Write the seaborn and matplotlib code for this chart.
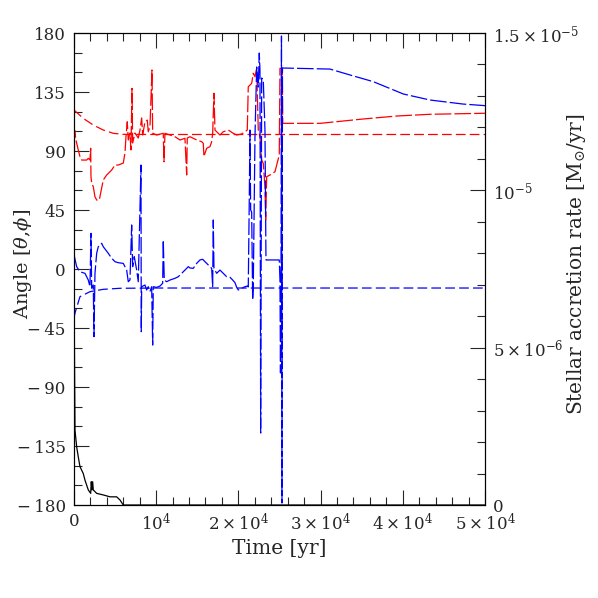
import numpy as np
import pandas as pd
import seaborn as sns
import matplotlib.pyplot as plt
from matplotlib.ticker import MultipleLocator

# time axis values [yr] and angles [deg]
t_theta_a = [0, 36, 73, 243, 523, 730, 937, 1545, 1740, 1946, 2032, 2068, 2153, 2348, 2555, 2761,
             3078, 3248, 3564, 3978, 4586, 4988, 5389, 5997, 6204, 6326, 6484, 6606, 6812, 6934,
             7056, 7141, 7421, 7822, 8029, 8236, 8357, 8637, 8917, 9039, 9245, 9489, 9574, 10060,
             10863, 10949, 11070, 11678, 12287, 12895, 13503, 13710, 13783, 14111, 14513, 14926,
             15535, 15729, 15814, 15936, 16143, 16544, 16751, 16873, 17031, 17153, 17360, 17761,
             18163, 18771, 19379, 19793, 20401, 20802, 21082, 21204, 21617, 21812, 22019, 22226,
             22420, 22627, 22834, 23029, 23235, 23321, 23442, 23844, 24452, 24975, 25060, 25340,
             25400, 29926, 35157, 39293, 43307, 50000]
theta_a = [157.1, 67.9, 106.0, 98.4, 90.8, 85.7, 83.1, 83.1, 84.4, 83.1, 92.1, 70.4, 65.6, 62.8, 55.1,
           52.6, 52.6, 58.0, 67.9, 71.7, 75.5, 79.3, 79.3, 80.8, 88.5, 100.9, 112.3, 98.4, 103.7,
           90.8, 137.8, 96.1, 103.7, 99.9, 106.0, 115.2, 102.2, 112.3, 113.6, 104.7, 108.5, 151.8,
           103.5, 102.2, 103.5, 81.8, 103.5, 102.2, 100.9, 98.4, 99.7, 71.7, 99.9, 100.9, 99.7,
           98.4, 97.1, 95.9, 85.7, 88.2, 92.1, 93.3, 97.1, 103.5, 134.0, 106.0, 104.7, 102.2, 104.7,
           106.0, 103.5, 102.2, 103.0, 104.7, 106.0, 139.0, 141.6, 149.3, 146.7, 153.1, 106.0,
           100.9, 83.1, 80.6, 62.8, 37.4, 70.4, 71.7, 74.2, 86.9, 153.1, 153.1, 111.1, 111.1,
           114.4, 116.7, 118.0, 118.8]

t_theta_b = [0, 1131, 2348, 3564, 4781, 5997, 10000, 50000]
theta_b = [121.3, 114.9, 109.8, 106.0, 103.5, 102.7, 102.6, 102.6]

t_phi_a = [0, 328, 730, 1338, 1740, 1946, 2068, 2153, 2348, 2433, 2555, 2761, 2956, 3370, 3564,
           4173, 4586, 4988, 5389, 5997, 6411, 6606, 6812, 7019, 7141, 7336, 7627, 7822, 8151,
           8187, 8236, 8637, 8844, 9039, 9245, 9452, 9574, 9647, 10060, 10462, 10790, 10863,
           10985, 11277, 11678, 12287, 12688, 13296, 13710, 13904, 14111, 14513, 14926, 15328,
           15656, 15936, 16338, 16751, 16873, 16946, 17031, 17360, 17761, 18163, 18576, 18977,
           19306, 19586, 19793, 19987, 20401, 20802, 21082, 21204, 21325, 21410, 21495, 21617,
           21739, 21812, 22019, 22226, 22420, 22542, 22627, 22712, 22834, 23029, 23235, 23357,
           23844, 24975, 25060, 25121, 25182, 25243, 25303, 25364, 31143, 33575, 36410, 40060,
           43307, 47357, 50000]
phi_a = [11.0, 1.8, -2.1, -3.3, -8.4, -13.5, 27.2, -14.7, -12.2, -51.6, -3.3, 12.0, 17.0, 19.6, 17.0,
         12.0, 8.2, 5.6, 4.8, 4.3, -0.8, -9.7, -8.4, 33.6, 1.8, 9.4, -0.8, -9.7, 79.3, -47.8,
         -13.5, -12.2, -16.0, -13.5, -17.3, -13.5, -58.0, -13.5, -14.0, -13.0, -10.9, 22.1, -8.4,
         -9.7, -8.4, -7.1, -5.9, -2.1, 0.5, 1.8, 0.8, 0.5, 4.3, 6.9, 7.4, 5.6, 3.1, 0.5, -13.5,
         37.4, 0.5, -3.3, -0.8, -3.3, -5.9, -6.3, -8.4, -10.4, -14.0, -16.0, -14.7, -13.5, -13.0,
         -13.7, 52.6, 106.0, 45.0, 43.5, -23.6, -13.7, 100.7, 154.1, 138.8, 164.7, 151.8, -125.1,
         145.7, 144.2, 106.0, 6.9, 6.9, 6.9, -8.4, -79.3, -16.0, 177.7, -178.5, 153.3, 152.5,
         148.0, 142.9, 133.5, 128.9, 125.8, 124.6]

t_phi_b = [0, 122, 730, 1946, 3564, 5596, 10000, 50000]
phi_b = [-37.4, -33.6, -21.1, -17.3, -15.5, -14.7, -14.5, -14.5]

# stellar accretion rate [Msun/yr]
t_mdot = [0, 122, 328, 523, 730, 1131, 1338, 1740, 2032, 2104, 2190, 2275, 2348, 2761, 3564,
          4379, 5194, 5596, 5997, 50000]
mdot = [7.2e-6, 2.38e-6, 1.85e-6, 1.53e-6, 1.22e-6, 1.0e-6, 0.79e-6, 0.48e-6, 0.37e-6, 0.74e-6,
        0.48e-6, 0.74e-6, 0.48e-6, 0.37e-6, 0.32e-6, 0.26e-6, 0.26e-6, 0.16e-6, 0.0, 0.0]

x_ticks = [0, 10000, 20000, 30000, 40000, 50000]
x_labels = ['0', r'$10^4$', r'$2\times10^4$', r'$3\times10^4$', r'$4\times10^4$', r'$5\times10^4$']
y_ticks = [-180, -135, -90, -45, 0, 45, 90, 135, 180]
y_labels = ['\u2212\u2009180', '\u2212\u2009135', '\u2212\u200990', '\u2212\u200945',
            '0', '45', '90', '135', '180']
r_ticks = [0, 5e-6, 1e-5, 1.5e-5]
r_labels = ['0', r'$5\times10^{-6}$', r'$10^{-5}$', r'$1.5\times10^{-5}$']

sns.set_style("ticks")
plt.rcParams['font.family'] = ['DejaVu Serif']
plt.rcParams['mathtext.fontset'] = 'dejavuserif'
plt.rcParams['lines.scale_dashes'] = False
plt.rcParams['xtick.direction'] = 'in'
plt.rcParams['ytick.direction'] = 'in'

fig = plt.figure(figsize=(5.98, 5.98), dpi=100)
ax = fig.add_axes([0.1237, 0.1555, 0.6873, 0.7893])
ax2 = ax.twinx()

long_dash = (0, (12, 2.2))
short_dash = (0, (7, 3))

sns.lineplot(x=t_theta_b, y=theta_b, ax=ax, color='red', lw=0.9, linestyle=short_dash,
             estimator=None, sort=False)
sns.lineplot(x=t_phi_b, y=phi_b, ax=ax, color='blue', lw=0.9, linestyle=short_dash,
             estimator=None, sort=False)
sns.lineplot(x=t_theta_a, y=theta_a, ax=ax, color='red', lw=0.9, linestyle=long_dash,
             estimator=None, sort=False)
sns.lineplot(x=t_phi_a, y=phi_a, ax=ax, color='blue', lw=0.9, linestyle=long_dash,
             estimator=None, sort=False)
sns.lineplot(x=t_mdot, y=mdot, ax=ax2, color='black', lw=0.9, estimator=None, sort=False)

ax.set_xlim(0, 50000)
ax.set_ylim(-180, 180)
ax2.set_ylim(0, 1.5e-5)

ax.set_xticks(x_ticks)
ax.set_xticklabels(x_labels)
ax.xaxis.set_minor_locator(MultipleLocator(2000))
ax.set_yticks(y_ticks)
ax.set_yticklabels(y_labels)
ax.yaxis.set_minor_locator(MultipleLocator(15))
ax2.set_yticks(r_ticks)
ax2.set_yticklabels(r_labels)
ax2.yaxis.set_minor_locator(MultipleLocator(1e-6))

ax.tick_params(axis='x', which='both', top=True, bottom=True, direction='in', labelsize=12, pad=6)
ax.tick_params(axis='y', which='both', left=True, right=False, direction='in', labelsize=12, pad=6)
ax.tick_params(which='major', length=11, width=0.8)
ax.tick_params(which='minor', length=6, width=0.8)
ax2.tick_params(axis='y', which='both', direction='in', labelsize=12, pad=6, width=0.8)
ax2.tick_params(which='major', length=11)
ax2.tick_params(which='minor', length=6)

ax.set_xlabel('Time [yr]', fontsize=14.5, labelpad=3)
ax.set_ylabel(r'Angle [$\theta$,$\phi$]', fontsize=14)
ax.yaxis.set_label_coords(-0.098, 0.51)
ax2.set_ylabel(r'Stellar accretion rate [M$_{\odot}$/yr]', fontsize=14.5, rotation=90)
ax2.yaxis.set_label_coords(1.195, 0.51)

for a in (ax, ax2):
    for s in a.spines.values():
        s.set_linewidth(0.8)
        s.set_color('black')

fig.savefig('out.png', dpi=100)
